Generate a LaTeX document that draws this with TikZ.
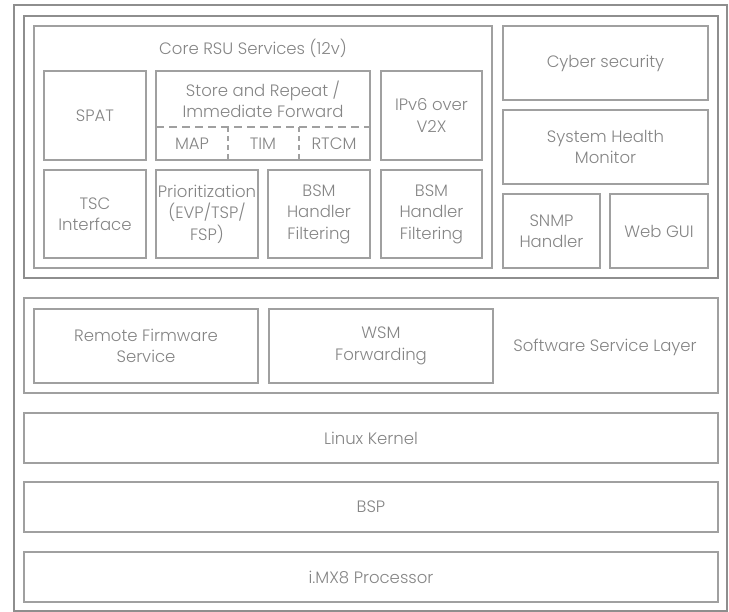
\documentclass[tikz,border=0pt]{standalone}
\usepackage{fontspec}
\setmainfont{Poppins}[UprightFont={* Light}]

\definecolor{linegray}{HTML}{A0A0A0}
\definecolor{framegray}{HTML}{8E8E8E}
\definecolor{textgray}{HTML}{858585}

\tikzset{
  blk/.style={draw=linegray, line width=1.3pt, text=textgray, align=center,
    inner sep=0pt, font=\fontsize{16.5}{21.5}\selectfont},
  lbl/.style={text=textgray, align=center, inner sep=0pt,
    font=\fontsize{16.5}{21.5}\selectfont},
  sep/.style={draw=linegray, line width=1.2pt, dash pattern=on 8pt off 5pt}
}

\begin{document}
\begin{tikzpicture}[x=1pt,y=-1pt]
\useasboundingbox (0,0) rectangle (729,612);
% frames
\node[blk, draw=framegray, minimum width=713, minimum height=606] (frame) at (370.5,308) {};
\node[blk, draw=framegray, minimum width=694, minimum height=262] (upper) at (371,147) {};
\node[blk, minimum width=458, minimum height=242] (core) at (263,147) {};
\node[lbl] (corelbl) at (253,48) {Core RSU Services (12v)};
% core services
\node[blk, minimum width=102, minimum height=89] (spat) at (95,115.5) {SPAT};
\node[blk, minimum width=214, minimum height=89] (store) at (263,115.5) {};
\node[lbl] (storelbl) at (263,99.5) {Store and Repeat /\\Immediate Forward};
\node[lbl] (map) at (192,143.5) {MAP};
\node[lbl] (tim) at (263,143.5) {TIM};
\node[lbl] (rtcm) at (334,143.5) {RTCM};
\coordinate (dl) at (156,127);
\coordinate (dr) at (370,127);
\draw[sep] (dl) -- (dr);
\foreach \x in {228,299}
  \draw[sep, dash pattern=on 5pt off 4pt] (\x,127) -- (\x,160);
\node[blk, minimum width=101, minimum height=89] (ipv6) at (431.5,115.5) {IPv6 over\\V2X};
\node[blk, minimum width=102, minimum height=88] (tsc) at (95,214) {TSC\\Interface};
\node[blk, minimum width=102, minimum height=88] (prio) at (207,214) {Prioritization\\(EVP/TSP/\\FSP)};
\node[blk, minimum width=102, minimum height=88] (bsma) at (319,214) {BSM\\Handler\\Filtering};
\node[blk, minimum width=101, minimum height=88] (bsmb) at (431.5,214) {BSM\\Handler\\Filtering};
% right column
\node[blk, minimum width=205, minimum height=74] (cyber) at (605.5,63) {Cyber security};
\node[blk, minimum width=205, minimum height=74] (health) at (605.5,147) {System Health\\Monitor};
\node[blk, minimum width=97, minimum height=74] (snmp) at (551.5,231) {SNMP\\Handler};
\node[blk, minimum width=98, minimum height=74] (webgui) at (659,231) {Web GUI};
% software service layer
\node[blk, minimum width=694, minimum height=95] (swlayer) at (371,345.5) {};
\node[lbl] (swlbl) at (605,347) {Software Service Layer};
\node[blk, minimum width=224, minimum height=74] (firmware) at (146,346) {Remote Firmware\\Service};
\node[blk, minimum width=224, minimum height=74] (wsm) at (381,346) {WSM\\Forwarding};
% lower layers
\node[blk, minimum width=694, minimum height=50] (kernel) at (371,438) {Linux Kernel};
\node[blk, minimum width=694, minimum height=50] (bsp) at (371,507) {BSP};
\node[blk, minimum width=694, minimum height=50] (imx) at (371,577) {i.MX8 Processor};
\end{tikzpicture}
\end{document}
